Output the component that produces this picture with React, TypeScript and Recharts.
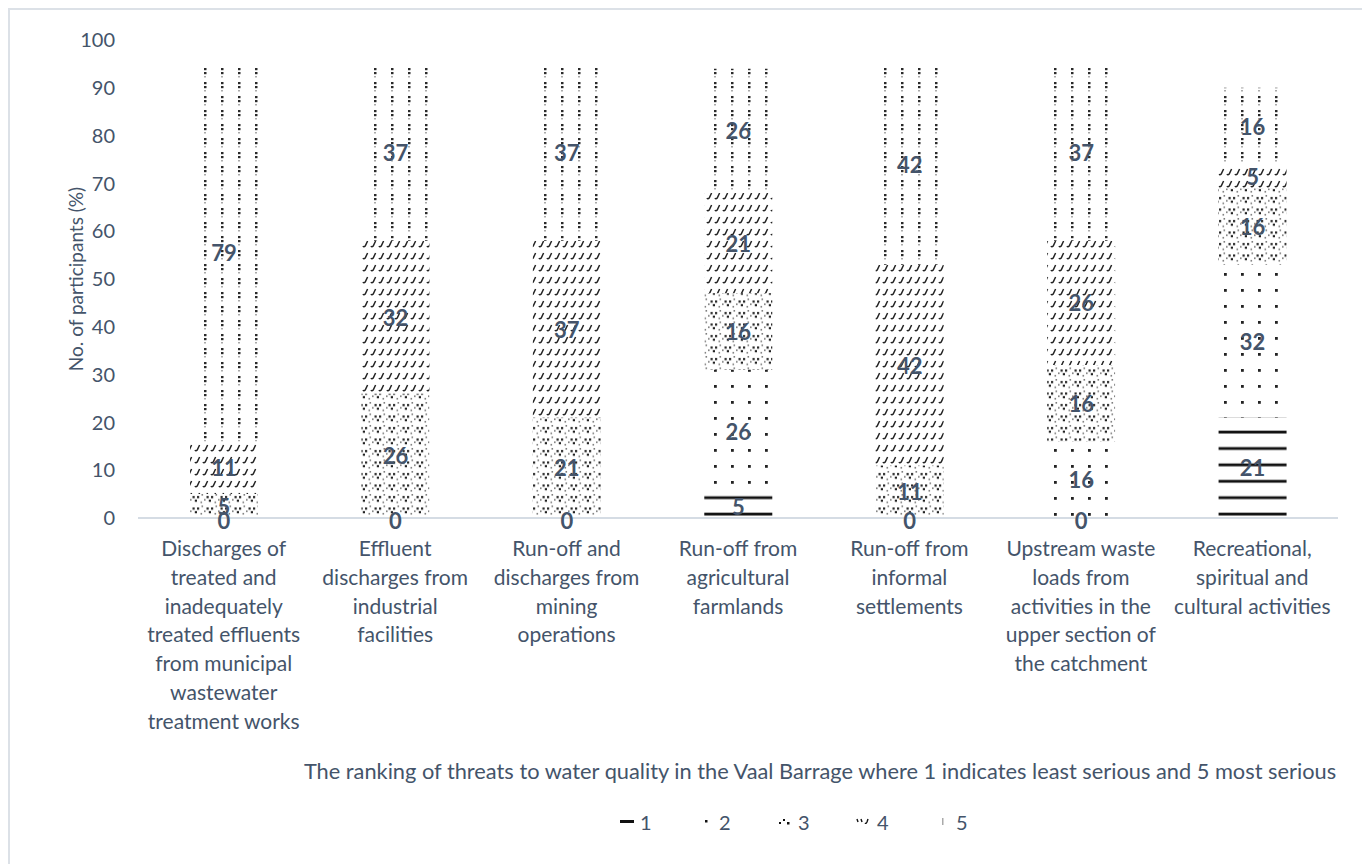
import React from "react";
import { BarChart, Bar, XAxis, YAxis, Legend, LabelList } from "recharts";

// Threat categories (line breaks follow the wrapped axis labels)
const categories = [
  "Discharges of\ntreated and\ninadequately\ntreated effluents\nfrom municipal\nwastewater\ntreatment works",
  "Effluent\ndischarges from\nindustrial\nfacilities",
  "Run-off and\ndischarges from\nmining\noperations",
  "Run-off from\nagricultural\nfarmlands",
  "Run-off from\ninformal\nsettlements",
  "Upstream waste\nloads from\nactivities in the\nupper section of\nthe catchment",
  "Recreational,\nspiritual and\ncultural activities",
];

// Share of participants (%) giving each rank (1 = least serious, 5 = most serious)
const rank1 = [0, 0, 0, 5, 0, 0, 21];
const rank2 = [0, 0, 0, 26, 0, 16, 32];
const rank3 = [5, 26, 21, 16, 11, 16, 16];
const rank4 = [11, 32, 37, 21, 42, 26, 5];
const rank5 = [79, 37, 37, 26, 42, 37, 16];

const yTicks = [0, 10, 20, 30, 40, 50, 60, 70, 80, 90, 100];
const seriesKeys = ["r1", "r2", "r3", "r4", "r5"];
const seriesNames = ["1", "2", "3", "4", "5"];

const xTitle =
  "The ranking of threats to water quality in the Vaal Barrage where 1 indicates least serious and 5 most serious";
const yTitle = "No. of participants (%)";

const data = categories.map((name, i) => ({
  name,
  r1: rank1[i],
  r2: rank2[i],
  r3: rank3[i],
  r4: rank4[i],
  r5: rank5[i],
}));

const TEXT = "#44546A";
const FONT = "Lato, 'Open Sans', sans-serif";

// Layout constants
const CHART_W = 1352;
const CHART_H = 860;
const MARGIN = { top: 30, right: 24, left: 0, bottom: 33 };
const LEGEND_H = 30;
const XAXIS_H = 289;
const PLOT_BOTTOM = CHART_H - MARGIN.bottom - LEGEND_H - XAXIS_H;

const CategoryTick = (props: any) => {
  const { x, y, payload } = props;
  const lines = String(payload.value).split("\n");
  return (
    <g>
      {lines.map((ln, i) => (
        <text
          key={i}
          x={x}
          y={y + 38 + i * 28.8}
          textAnchor="middle"
          fill={TEXT}
          fontSize={21}
          fontFamily={FONT}
        >
          {ln}
        </text>
      ))}
    </g>
  );
};

const valueText = (x: number, y: number, v: any, key: string) => (
  <text
    key={key}
    x={x}
    y={y}
    textAnchor="middle"
    dominantBaseline="central"
    fill={TEXT}
    fontSize={22}
    fontWeight="bold"
    fontFamily={FONT}
  >
    {v}
  </text>
);

// Segment label; a segment resting on the baseline above empty ranks also
// carries the "0" of those empty ranks
const makeSegmentLabel = (s: number) => (p: any) => {
  const box = p.viewBox && p.viewBox.width != null ? p.viewBox : p;
  const x = Number(box.x);
  const y = Number(box.y);
  const w = Number(box.width);
  const h = Number(box.height);
  const raw = Array.isArray(p.value) ? p.value[1] - p.value[0] : p.value;
  if (!Number.isFinite(x) || !Number.isFinite(y)) return null;
  const top = Math.min(y, y + h);
  const bottom = Math.max(y, y + h);
  const cx = x + w / 2;
  const parts = [valueText(cx, (top + bottom) / 2, raw, "v")];
  if (Number(raw) > 0 && s > 0 && Math.abs(bottom - PLOT_BOTTOM) < 1) {
    parts.push(valueText(cx, bottom + 2, 0, "z"));
  }
  return <g>{parts}</g>;
};

const LegendIcon = ({ k }: { k: number }) => {
  const ink = "#111";
  return (
    <svg width={18} height={12} style={{ display: "block" }}>
      {k === 0 && <rect x={2} y={4} width={14} height={3} fill={ink} />}
      {k === 1 && <rect x={8} y={4} width={2.5} height={2.5} fill={ink} />}
      {k === 2 && (
        <g fill={ink}>
          <rect x={3} y={6} width={2} height={2} />
          <rect x={7} y={3} width={2} height={2} />
          <rect x={11} y={6} width={2.5} height={2.5} />
        </g>
      )}
      {k === 3 && (
        <g stroke={ink} strokeWidth={1.4} fill="none">
          <path d="M2,3 L3,6" />
          <path d="M6,3 L7,6" />
          <path d="M10,7 Q11,8 12,6 L13,3" />
        </g>
      )}
      {k === 4 && <rect x={8} y={2} width={1.5} height={7} fill="#aaa" />}
    </svg>
  );
};

const renderLegend = () => (
  <div style={{ display: "flex", paddingLeft: 608, fontFamily: FONT }}>
    {seriesNames.map((n, i) => (
      <div
        key={n}
        style={{ display: "flex", alignItems: "center", width: 79, height: LEGEND_H }}
      >
        <LegendIcon k={i} />
        <span style={{ color: TEXT, fontSize: 20, marginLeft: 4 }}>{n}</span>
      </div>
    ))}
  </div>
);

export default function App() {
  return (
    <div
      style={{
        width: 1356,
        height: 870,
        boxSizing: "border-box",
        border: "2px solid #DCE1E7",
        background: "#fff",
      }}
    >
      <BarChart
        width={CHART_W}
        height={CHART_H}
        data={data}
        margin={MARGIN}
        barSize={68}
      >
        <defs>
          {/* rank 1: heavy horizontal rules */}
          <pattern id="pat1" patternUnits="userSpaceOnUse" x={0} y={12} width={8} height={16.4}>
            <rect x={0} y={-1.3} width={8} height={2.8} fill="#111" />
            <rect x={0} y={15.1} width={8} height={1.3} fill="#111" />
          </pattern>
          {/* rank 2: sparse dots */}
          <pattern id="pat2" patternUnits="userSpaceOnUse" width={17} height={16}>
            <rect x={7} y={7} width={2.8} height={2.8} fill="#222" />
          </pattern>
          {/* rank 3: clustered dots */}
          <pattern id="pat3" patternUnits="userSpaceOnUse" width={14} height={11.5}>
            <g fill="#222">
              <rect x={0.5} y={3} width={2.2} height={2.2} />
              <rect x={5} y={3} width={2.2} height={2.2} />
              <rect x={2.8} y={6.6} width={2.2} height={2.2} />
            </g>
            <g fill="#777">
              <rect x={9.5} y={1} width={1.6} height={1.6} />
              <rect x={8.5} y={8.5} width={1.6} height={1.6} />
              <rect x={12} y={6} width={1.6} height={1.6} />
            </g>
          </pattern>
          {/* rank 4: slanted hooks */}
          <pattern id="pat4" patternUnits="userSpaceOnUse" width={8} height={12}>
            <path
              d="M1,8 Q1.8,9.6 3.2,8 L5.6,3"
              stroke="#222"
              strokeWidth={1.5}
              fill="none"
            />
          </pattern>
          {/* rank 5: dotted verticals */}
          <pattern id="pat5" patternUnits="userSpaceOnUse" width={17} height={14}>
            <g fill="#2a2a2a">
              <rect x={7} y={2} width={2.5} height={2.2} />
              <rect x={7} y={6} width={2.5} height={2.2} />
            </g>
            <rect x={7} y={10} width={2} height={1.5} fill="#aaa" />
          </pattern>
        </defs>
        <XAxis
          dataKey="name"
          height={XAXIS_H}
          interval={0}
          tickLine={false}
          tickSize={0}
          tickMargin={0}
          axisLine={{ stroke: "#D5DCE4", strokeWidth: 2 }}
          tick={<CategoryTick />}
          label={{
            content: (p: any) => {
              const vb = p.viewBox || { x: 128, y: PLOT_BOTTOM };
              return (
                <text
                  x={vb.x + 682}
                  y={vb.y + 252}
                  textAnchor="middle"
                  dominantBaseline="central"
                  fill={TEXT}
                  fontSize={21.8}
                  fontFamily={FONT}
                >
                  {xTitle}
                </text>
              );
            },
          }}
        />
        <YAxis
          width={128}
          domain={[0, 100]}
          ticks={yTicks}
          interval={0}
          tickLine={false}
          axisLine={false}
          tickSize={0}
          tickMargin={23}
          tick={{ fill: TEXT, fontSize: 20, fontFamily: FONT }}
          label={{
            content: () => {
              const cx = 65;
              const cy = 269;
              return (
                <text
                  x={cx}
                  y={cy}
                  transform={`rotate(-90, ${cx}, ${cy})`}
                  textAnchor="middle"
                  dominantBaseline="central"
                  fill={TEXT}
                  fontSize={19}
                  fontFamily={FONT}
                >
                  {yTitle}
                </text>
              );
            },
          }}
        />
        <Legend
          verticalAlign="bottom"
          content={renderLegend}
          wrapperStyle={{ left: 0, width: CHART_W, height: LEGEND_H }}
        />
        {seriesKeys.map((k, i) => (
          <Bar
            key={k}
            dataKey={k}
            name={seriesNames[i]}
            stackId="rank"
            fill={`url(#pat${i + 1})`}
            isAnimationActive={false}
          >
            <LabelList dataKey={k} content={makeSegmentLabel(i)} />
          </Bar>
        ))}
      </BarChart>
    </div>
  );
}
